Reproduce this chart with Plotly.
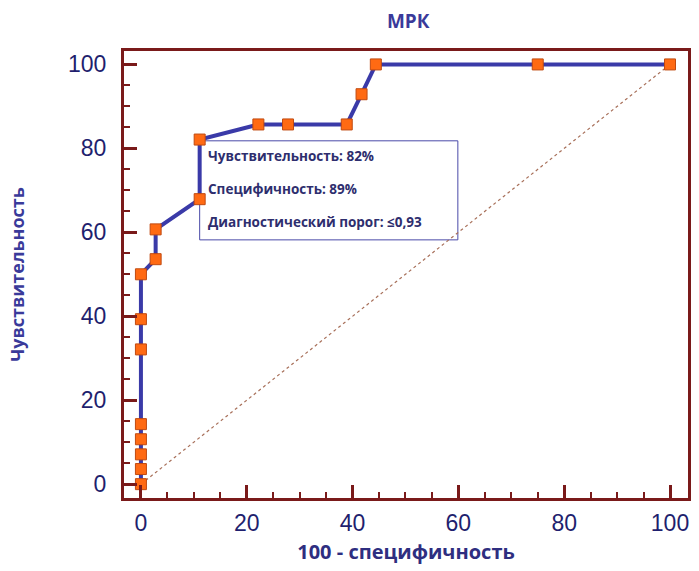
import plotly.graph_objects as go

fpr = [0, 0, 0, 0, 0, 0, 0, 0, 2.78, 2.78, 11.1, 11.1, 22.2, 27.8, 38.9, 41.7, 44.4, 75, 100]
tpr = [0, 3.6, 7.1, 10.7, 14.3, 32.1, 39.3, 50, 53.6, 60.7, 67.9, 82.1, 85.7, 85.7, 85.7, 92.9, 100, 100, 100]
diag_x = [0, 100]
diag_y = [0, 100]
tick_vals = [0, 20, 40, 60, 80, 100]
box_lines = ["Чувствительность: 82%", "Специфичность: 89%", "Диагностический порог: ≤0,93"]
box_line_y = [78.1, 70.3, 62.5]

navy = "#1f1f6e"
axis_col = "#7a1a1a"

fig = go.Figure()
fig.add_trace(go.Scatter(x=diag_x, y=diag_y, mode="lines",
                         line=dict(color="#a8705a", width=1.2, dash="dot"), showlegend=False))
fig.add_trace(go.Scatter(x=fpr, y=tpr, mode="lines+markers",
                         line=dict(color="#3a3aa8", width=4),
                         marker=dict(symbol="square", size=11, color="#ff6a13",
                                     line=dict(color="#c04a10", width=1)),
                         showlegend=False))

axis_common = dict(
    showgrid=False, zeroline=False, showline=True, linecolor=axis_col, linewidth=3,
    mirror=True, ticks="inside", ticklen=13, tickwidth=3, tickcolor=axis_col,
    tickvals=tick_vals, tickfont=dict(family="Liberation Sans, Arial", size=23, color=navy),
    minor=dict(dtick=5, ticks="inside", ticklen=6, tickwidth=2, tickcolor=axis_col),
    automargin=False,
)

fig.update_xaxes(range=[-3.2, 103.4], **axis_common, ticklabelstandoff=2,
                 title=dict(text="<b>100 - специфичность</b>",
                            font=dict(family="Open Sans", size=20, color="#2e2e80"), standoff=11))
fig.update_yaxes(range=[-3.3, 103.2], **axis_common, ticklabelstandoff=10,
                 title=dict(text="<b>Чувствительность</b>",
                            font=dict(family="Open Sans", size=18, color="#3a3a9a"), standoff=39))

# info box
fig.add_shape(type="rect", xref="x", yref="y", x0=11.1, x1=59.9, y0=58.2, y1=81.8,
              line=dict(color="#4a4aa8", width=1), fillcolor="white", layer="below")
for s, yy in zip(box_lines, box_line_y):
    fig.add_annotation(x=12.3, y=yy, xref="x", yref="y", xanchor="left", yanchor="middle",
                       text="<b>" + s + "</b>", showarrow=False,
                       font=dict(family="Open Sans", size=13.5, color="#2e2e6e"))

fig.update_layout(
    width=699, height=571,
    margin=dict(l=124, r=11, t=51, b=73),
    paper_bgcolor="white", plot_bgcolor="white",
    title=dict(text="<b>МРК</b>", x=0.584, xanchor="center", y=0.963, yanchor="middle",
               font=dict(family="Open Sans", size=19, color="#3a3a9a")),
)

fig.write_html("out.html")
